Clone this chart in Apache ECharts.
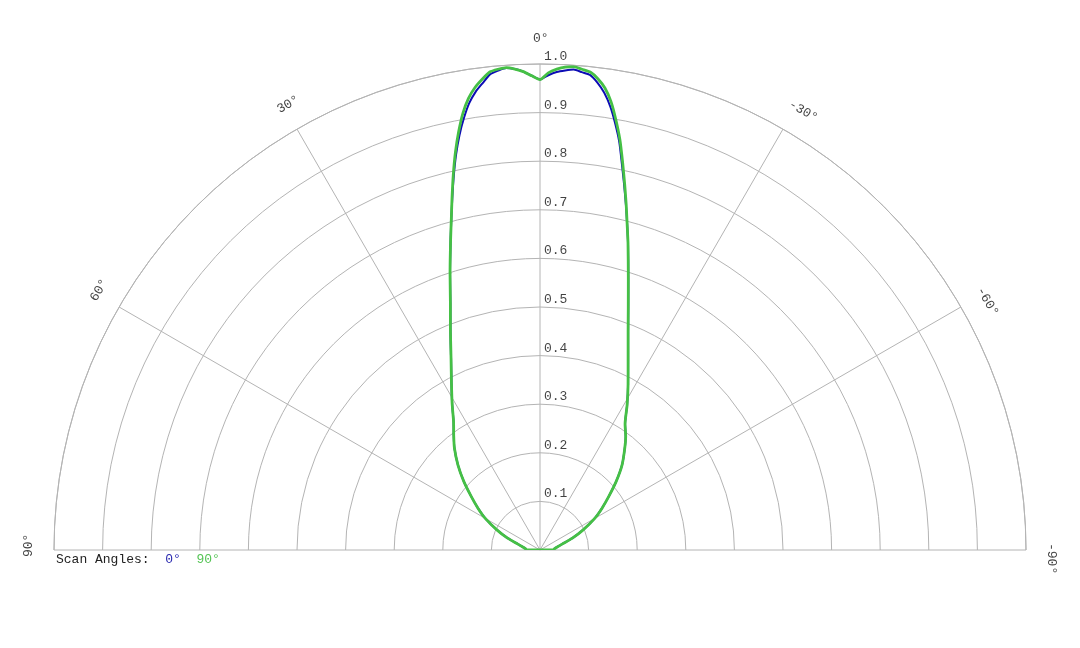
<!DOCTYPE html>
<html>
<head>
<meta charset="utf-8">
<title>Scan Angles</title>
<script src="https://cdn.jsdelivr.net/npm/echarts@6.0.0/dist/echarts.min.js"></script>
<style>
html,body{margin:0;padding:0;background:#fff;}
#main{width:1080px;height:648px;}
</style>
</head>
<body>
<div id="main"></div>
<script>
// 角度 (deg), 正值在左边
var angles = [-90,-90,-85,-80,-75,-70,-65,-60,-56,-52,-48,-44,-40,-37,-34,-31,-28,-25,-22,-20,-18,-16,-15,-14,-13,-12,-11,-10,-9,-8,-7,-6,-5,-4,-3,-2,-1,
    0,1,2,3,4,5,6,7,8,9,10,11,12,13,14,15,16,18,20,22,25,28,31,34,37,40,44,48,52,56,60,65,70,75,80,85,90,90];

// scan angle 0° (blue)
var gain0 = [0,0.027,0.030,0.036,0.047,0.071,0.098,0.130,0.154,0.180,0.211,0.243,0.271,0.293,0.313,0.348,0.386,0.429,0.484,0.531,0.588,0.657,0.693,0.731,0.770,0.811,0.855,0.891,0.924,0.950,0.969,0.983,0.987,0.991,0.988,0.984,0.977,
    0.968,0.976,0.985,0.991,0.994,0.990,0.984,0.968,0.952,0.931,0.902,0.869,0.831,0.789,0.746,0.705,0.667,0.599,0.539,0.492,0.433,0.388,0.351,0.318,0.295,0.274,0.243,0.211,0.180,0.154,0.130,0.098,0.071,0.047,0.036,0.030,0.027,0];

// scan angle 90° (green)
var gain90 = [0,0.027,0.030,0.036,0.047,0.071,0.098,0.130,0.154,0.180,0.211,0.243,0.271,0.293,0.313,0.348,0.386,0.429,0.484,0.531,0.588,0.657,0.693,0.733,0.774,0.817,0.861,0.899,0.934,0.960,0.977,0.989,0.993,0.997,0.995,0.990,0.982,
    0.968,0.976,0.985,0.991,0.995,0.993,0.989,0.976,0.961,0.941,0.913,0.877,0.837,0.793,0.748,0.705,0.667,0.599,0.539,0.492,0.433,0.388,0.351,0.318,0.295,0.274,0.243,0.211,0.180,0.154,0.130,0.098,0.071,0.047,0.036,0.030,0.027,0];

var radiusTicks = [0.1,0.2,0.3,0.4,0.5,0.6,0.7,0.8,0.9,1.0];
var angleTicks = [90,60,30,0,-30,-60,-90];

var fontFam = "'Courier New', 'Liberation Mono', monospace";
var gridColor = '#b4b4b4';

var myChart = echarts.init(document.getElementById('main'));

function toPolar(vals) {
    var out = [];
    for (var i = 0; i < angles.length; i++) {
        out.push([vals[i], angles[i]]);
    }
    return out;
}

var radiusLabelData = radiusTicks.map(function (r) { return [r, 0]; });
var angleLabelData = angleTicks.map(function (a) {
    return {
        value: [1.053, a],
        label: {rotate: a}
    };
});

option = {
    backgroundColor: '#fff',
    animation: false,
    title: {
        left: 56,
        top: 553,
        padding: 0,
        text: '{a|Scan Angles:  }{b|0°  }{c|90°}',
        textStyle: {
            fontWeight: 'normal',
            fontFamily: fontFam,
            fontSize: 13,
            rich: {
                a: {fontFamily: fontFam, fontSize: 13, fontWeight: 'normal', color: '#222'},
                b: {fontFamily: fontFam, fontSize: 13, fontWeight: 'normal', color: '#2a2ab0'},
                c: {fontFamily: fontFam, fontSize: 13, fontWeight: 'normal', color: '#55c455'}
            }
        }
    },
    polar: {
        center: [540, 550],
        radius: 486
    },
    angleAxis: {
        type: 'value',
        min: -90,
        max: 90,
        interval: 30,
        startAngle: 0,
        endAngle: 180,
        clockwise: false,
        axisLine: {show: true, lineStyle: {color: gridColor, width: 1}},
        axisTick: {show: false},
        axisLabel: {show: false},
        splitLine: {show: true, lineStyle: {color: gridColor, width: 1}}
    },
    radiusAxis: {
        type: 'value',
        min: 0,
        max: 1,
        interval: 0.1,
        axisLine: {show: false},
        axisTick: {show: false},
        axisLabel: {show: false},
        splitLine: {show: true, lineStyle: {color: gridColor, width: 1}}
    },
    series: [
        {
            name: '0°',
            type: 'line',
            coordinateSystem: 'polar',
            data: toPolar(gain0),
            showSymbol: false,
            smooth: 0.2,
            lineStyle: {color: '#0c0cb4', width: 2}
        },
        {
            name: '90°',
            type: 'line',
            coordinateSystem: 'polar',
            data: toPolar(gain90),
            showSymbol: false,
            smooth: 0.2,
            lineStyle: {color: '#45c045', width: 2.8}
        },
        {
            // 半径刻度文字
            type: 'scatter',
            coordinateSystem: 'polar',
            clip: false,
            symbolSize: 0,
            silent: true,
            data: radiusLabelData,
            label: {
                show: true,
                position: [4, -14],
                fontFamily: fontFam,
                fontSize: 13,
                color: '#111',
                formatter: function (p) { return p.value[0].toFixed(1); }
            }
        },
        {
            // 角度刻度文字
            type: 'scatter',
            coordinateSystem: 'polar',
            clip: false,
            symbolSize: 0,
            silent: true,
            data: angleLabelData,
            label: {
                show: true,
                position: 'inside',
                align: 'left',
                verticalAlign: 'middle',
                offset: [-7, 0],
                fontFamily: fontFam,
                fontSize: 13,
                color: '#111',
                formatter: function (p) { return p.value[1] + '°'; }
            }
        }
    ]
};

myChart.setOption(option);
</script>
</body>
</html>
